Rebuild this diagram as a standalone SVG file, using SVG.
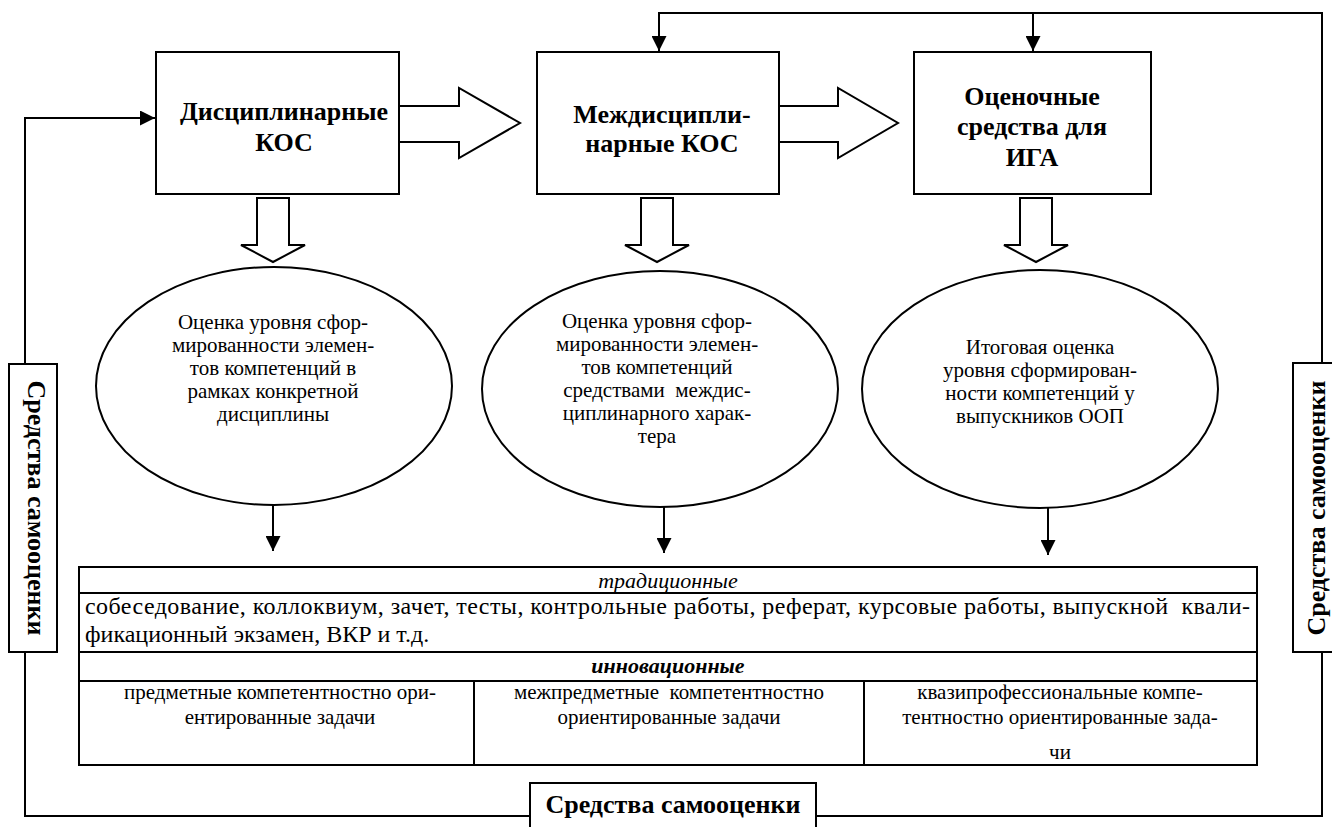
<svg xmlns="http://www.w3.org/2000/svg" width="1332" height="827" viewBox="0 0 1332 827">
<style>
.box{fill:#fff;stroke:#000;stroke-width:2}
.ln{fill:none;stroke:#000;stroke-width:2}
.ha{fill:#fff;stroke:#000;stroke-width:2;stroke-linejoin:miter}
.t{font-family:"Liberation Serif","Times New Roman","DejaVu Serif",serif;fill:#000}
.bt{font-size:26px;font-weight:bold;text-anchor:middle}
.et{font-size:21px;text-anchor:middle}
.tt{font-size:21px}
.th{font-size:22px}
.tr{font-size:24px}
.mid{text-anchor:middle}
.lb{font-size:26px;font-weight:bold;text-anchor:middle}
</style>
<defs>
<marker id="ah" viewBox="0 0 10 10" refX="10" refY="5" markerWidth="15" markerHeight="15" markerUnits="userSpaceOnUse" orient="auto">
<path d="M0,0 L10,5 L0,10 z" fill="#000"/>
</marker>
</defs>
<rect width="1332" height="827" fill="#fff"/>

<g id="connectors">
<polyline class="ln" points="25,364 25,118 155,118" marker-end="url(#ah)"/>
<polyline class="ln" points="25,652 25,816 530,816"/>
<polyline class="ln" points="816,816 1322,816 1322,652"/>
<polyline class="ln" points="1322,363 1322,13 659,13 659,51" marker-end="url(#ah)"/>
<line class="ln" x1="1033" y1="13" x2="1033" y2="51" marker-end="url(#ah)"/>
<line class="ln" x1="273" y1="505" x2="273" y2="551" marker-end="url(#ah)"/>
<line class="ln" x1="664" y1="507" x2="664" y2="553" marker-end="url(#ah)"/>
<line class="ln" x1="1048" y1="508" x2="1048" y2="555" marker-end="url(#ah)"/>
<polygon class="ha" points="399,106 459,106 459,88 520,123 459,158 459,142 399,142"/>
<polygon class="ha" points="779,106 838,106 838,88 898,123 838,158 838,142 779,142"/>
<polygon class="ha" points="257,198 289,198 289,245 305,245 273,262 241,245 257,245"/>
<polygon class="ha" points="641,198 673,198 673,245 689,245 657,262 625,245 641,245"/>
<polygon class="ha" points="1020,198 1052,198 1052,245 1068,245 1036,262 1004,245 1020,245"/>
</g>

<g id="box1">
<rect class="box" x="156" y="52" width="243" height="142"/>
<text class="t bt" x="284" y="120">Дисциплинарные</text>
<text class="t bt" x="284" y="151">КОС</text>
</g>
<g id="box2">
<rect class="box" x="537" y="52" width="242" height="142"/>
<text class="t bt" x="662" y="123">Междисципли-</text>
<text class="t bt" x="662" y="152">нарные КОС</text>
</g>
<g id="box3">
<rect class="box" x="914" y="52" width="237" height="142"/>
<text class="t bt" x="1032" y="105">Оценочные</text>
<text class="t bt" x="1032" y="135">средства для</text>
<text class="t bt" x="1032" y="166">ИГА</text>
</g>

<g id="ellipse1">
<ellipse class="box" cx="274" cy="386" rx="178" ry="119"/>
<text class="t et" x="273" y="329">Оценка уровня сфор-</text>
<text class="t et" x="273" y="352">мированности элемен-</text>
<text class="t et" x="273" y="375">тов компетенций в</text>
<text class="t et" x="273" y="398">рамках конкретной</text>
<text class="t et" x="273" y="421">дисциплины</text>
</g>
<g id="ellipse2">
<ellipse class="box" cx="660" cy="389" rx="178" ry="118"/>
<text class="t et" x="657" y="328">Оценка уровня сфор-</text>
<text class="t et" x="657" y="351">мированности элемен-</text>
<text class="t et" x="657" y="374">тов компетенций</text>
<text class="t et" x="657" y="397" xml:space="preserve">средствами  междис-</text>
<text class="t et" x="657" y="420">циплинарного харак-</text>
<text class="t et" x="657" y="443">тера</text>
</g>
<g id="ellipse3">
<ellipse class="box" cx="1040" cy="389" rx="178" ry="119"/>
<text class="t et" x="1040" y="354">Итоговая оценка</text>
<text class="t et" x="1040" y="377">уровня сформирован-</text>
<text class="t et" x="1040" y="400">ности компетенций у</text>
<text class="t et" x="1040" y="423">выпускников ООП</text>
</g>

<g id="table">
<rect class="box" x="79" y="567" width="1178" height="198"/>
<line class="ln" x1="79" y1="593" x2="1257" y2="593"/>
<line class="ln" x1="79" y1="652" x2="1257" y2="652"/>
<line class="ln" x1="79" y1="681" x2="1257" y2="681"/>
<line class="ln" x1="474" y1="681" x2="474" y2="765"/>
<line class="ln" x1="864" y1="681" x2="864" y2="765"/>
<text class="t th mid" x="668" y="588" font-style="italic">традиционные</text>
<text class="t tr" x="85" y="614" textLength="1165" lengthAdjust="spacing" xml:space="preserve">собеседование, коллоквиум, зачет, тесты, контрольные работы, реферат, курсовые работы, выпускной  квали-</text>
<text class="t tr" x="85" y="642">фикационный экзамен, ВКР и т.д.</text>
<text class="t th mid" x="668" y="673" font-style="italic" font-weight="bold">инновационные</text>
<text class="t tt mid" x="280" y="699">предметные компетентностно ори-</text>
<text class="t tt mid" x="280" y="724">ентированные задачи</text>
<text class="t tt mid" x="669" y="699" xml:space="preserve">межпредметные  компетентностно</text>
<text class="t tt mid" x="669" y="724">ориентированные задачи</text>
<text class="t tt mid" x="1060" y="699">квазипрофессиональные компе-</text>
<text class="t tt mid" x="1060" y="724">тентностно ориентированные зада-</text>
<text class="t tt mid" x="1060" y="759">чи</text>
</g>

<g id="label-left">
<rect class="box" x="9" y="364" width="48" height="288"/>
<text class="t lb" transform="translate(28,508) rotate(90)">Средства самооценки</text>
</g>
<g id="label-right">
<rect class="box" x="1293" y="363" width="45" height="289"/>
<text class="t lb" transform="translate(1325,508) rotate(-90)">Средства самооценки</text>
</g>
<g id="label-bottom">
<path class="box" d="M530,830 V783 H816 V830"/>
<text class="t lb" x="673" y="813">Средства самооценки</text>
</g>
</svg>
